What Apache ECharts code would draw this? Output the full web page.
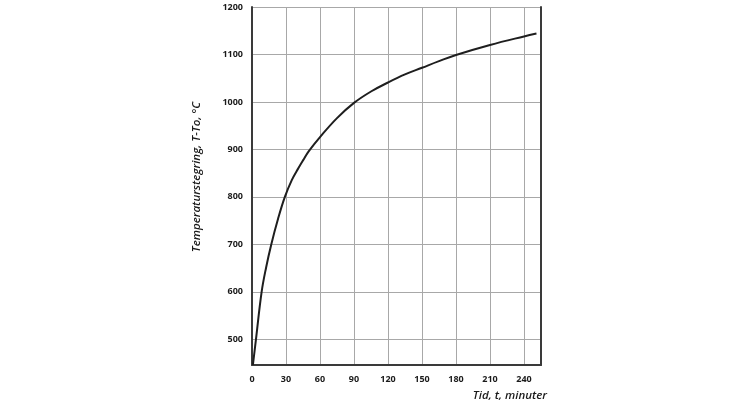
<!DOCTYPE html>
<html>
<head>
<meta charset="utf-8">
<script src="https://cdn.jsdelivr.net/npm/echarts@6/dist/echarts.min.js"></script>
<style>
html,body{margin:0;padding:0;background:#fff;}
#chart{width:744px;height:406px;}
</style>
</head>
<body>
<div id="chart"></div>
<script>
// Data
var timeMin  = [0.8, 3.5, 8.5, 12.5, 17, 23, 29, 35, 41, 45, 50, 60, 75, 90, 105, 120, 135, 150, 165, 180, 210, 240, 251];
var tempRise = [446, 500, 600, 652, 700, 754, 800, 835, 861, 877, 896, 926, 966, 998, 1022, 1041, 1058, 1072, 1086, 1099, 1120, 1138, 1144];
var yTicks = [500, 600, 700, 800, 900, 1000, 1100, 1200];
var xTicks = [0, 30, 60, 90, 120, 150, 180, 210, 240];
var xTitle = 'Tid, t, minuter';
var yTitle = 'Temperaturstegring, T-To, °C';

var points = timeMin.map(function (t, i) { return [t, tempRise[i]]; });
var plain = function (v) { return String(v); };

var labelStyle = { fontFamily: 'Open Sans', fontWeight: 700, fontSize: 9, color: '#1a1a1a' };
var titleStyle = { fontFamily: 'Open Sans', fontStyle: 'italic', fontWeight: 600, fontSize: 11.5, color: '#1a1a1a' };
var chart = echarts.init(document.getElementById('chart'), null, { renderer: 'canvas' });
chart.setOption({
  animation: false,
  backgroundColor: '#fff',
  grid: { left: 252, right: 203, top: 7, bottom: 41, containLabel: false },
  xAxis: {
    type: 'value', min: 0, max: 255, interval: 30,
    axisLine: { show: true, lineStyle: { color: '#3a3a3a', width: 2 } },
    axisTick: { show: false },
    axisLabel: Object.assign({ margin: 10, customValues: xTicks, formatter: plain }, labelStyle),
    splitLine: { show: true, lineStyle: { color: '#a8a8a8', width: 1 } },
    name: xTitle, nameLocation: 'end', nameGap: 6,
    nameTextStyle: Object.assign({ align: 'right', verticalAlign: 'top', padding: [25, 0, 0, 0] }, titleStyle)
  },
  yAxis: [{
    type: 'value', min: 446, max: 1200,
    axisLine: { show: true, lineStyle: { color: '#3a3a3a', width: 2 } },
    axisTick: { show: false, customValues: yTicks },
    axisLabel: Object.assign({ margin: 9, customValues: yTicks, formatter: plain }, labelStyle),
    splitLine: { show: true, lineStyle: { color: '#a8a8a8', width: 1 } },
    name: yTitle, nameLocation: 'middle', nameGap: 49, nameRotate: 90,
    nameTextStyle: Object.assign({ padding: [0, 0, 0, 18] }, titleStyle)
  }, {
    type: 'value', min: 446, max: 1200, position: 'right',
    axisLine: { show: true, onZero: false, lineStyle: { color: '#3a3a3a', width: 2 } },
    axisTick: { show: false }, axisLabel: { show: false }, splitLine: { show: false }
  }],
  series: [{
    type: 'line', data: points, yAxisIndex: 0,
    showSymbol: false, smooth: 0.4,
    lineStyle: { color: '#1e1e1e', width: 2 }
  }]
});
</script>
</body>
</html>
